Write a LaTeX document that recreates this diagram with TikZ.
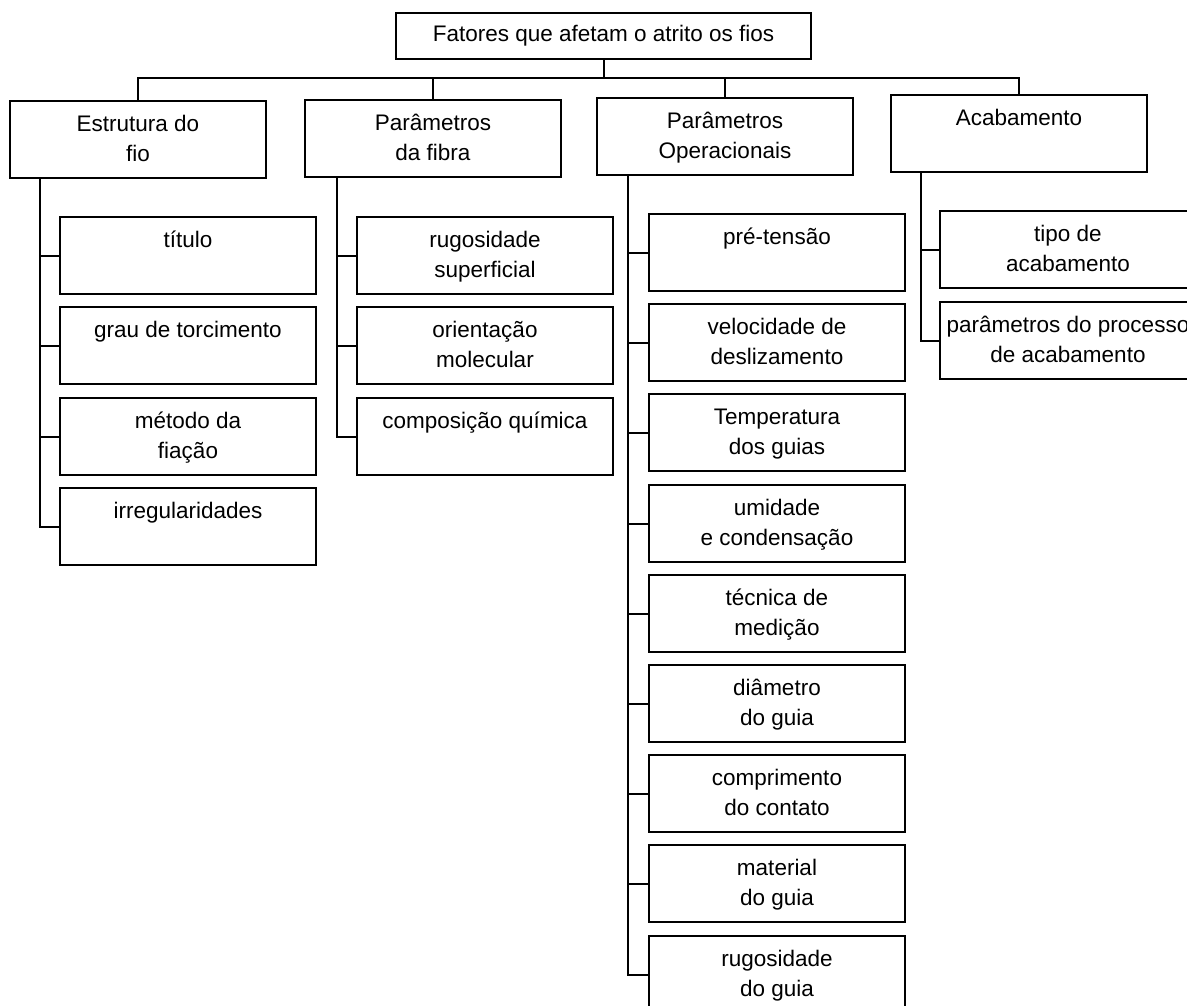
\documentclass[tikz,border=0pt]{standalone}
\usepackage{fontspec}
\setmainfont{Liberation Sans}
\usetikzlibrary{calc}
\newcommand\bt[2]{\parbox[c][77pt][t]{256pt}{\centering\vspace*{9pt}\strut#1\\\strut#2}}
\begin{document}
\begin{tikzpicture}[x=1pt,y=-1pt,
  box/.style={draw,line width=2pt,inner sep=0pt,anchor=north west,font=\fontsize{22.5}{30}\selectfont},
  conn/.style={line width=2pt}]
\fill[white] (0,0) rectangle (1187,1005);
\useasboundingbox (0,0) rectangle (1187,1005);
% root
\node[box,minimum width=415pt,minimum height=46pt] (top) at (395,12) {Fatores que afetam o atrito os fios};
% level 1
\node[box] (est) at (9,100) {\bt{Estrutura do}{fio}};
\node[box] (fib) at (304,99) {\bt{Parâmetros}{da fibra}};
\node[box] (op) at (596,97) {\bt{Parâmetros}{Operacionais}};
\node[box] (ac) at (890,94) {\bt{Acabamento}{}};
\coordinate (bar) at (0,78);
\draw[conn] (top.south) -- (top.south |- bar);
\draw[conn] (est.north) -- (est.north |- bar) -- (ac.north |- bar) -- (ac.north);
\draw[conn] (fib.north) -- (fib.north |- bar);
\draw[conn] (op.north) -- (op.north |- bar);
% Estrutura children
\node[box] (e1) at (59,216) {\bt{título}{}};
\node[box] (e2) at (59,306) {\bt{grau de torcimento}{}};
\node[box] (e3) at (59,397) {\bt{método da}{fiação}};
\node[box] (e4) at (59,487) {\bt{irregularidades}{}};
\coordinate (es) at ($(est.south west)+(31,0)$);
\draw[conn] (es) |- (e4.west);
\foreach \n in {e1,e2,e3} \draw[conn] (\n.west) -- (\n.west -| es);
% Fibra children
\node[box] (f1) at (356,216) {\bt{rugosidade}{superficial}};
\node[box] (f2) at (356,306) {\bt{orientação}{molecular}};
\node[box] (f3) at (356,397) {\bt{composição química}{}};
\coordinate (fs) at ($(fib.south west)+(33,0)$);
\draw[conn] (fs) |- (f3.west);
\foreach \n in {f1,f2} \draw[conn] (\n.west) -- (\n.west -| fs);
% Operacionais children
\node[box] (o1) at (648,213) {\bt{pré-tensão}{}};
\node[box] (o2) at (648,303) {\bt{velocidade de}{deslizamento}};
\node[box] (o3) at (648,393) {\bt{Temperatura}{dos guias}};
\node[box] (o4) at (648,484) {\bt{umidade}{e condensação}};
\node[box] (o5) at (648,574) {\bt{técnica de}{medição}};
\node[box] (o6) at (648,664) {\bt{diâmetro}{do guia}};
\node[box] (o7) at (648,754) {\bt{comprimento}{do contato}};
\node[box] (o8) at (648,844) {\bt{material}{do guia}};
\node[box] (o9) at (648,935) {\bt{rugosidade}{do guia}};
\coordinate (os) at ($(op.south west)+(32,0)$);
\draw[conn] (os) |- (o9.west);
\foreach \n in {o1,o2,o3,o4,o5,o6,o7,o8} \draw[conn] (\n.west) -- (\n.west -| os);
% Acabamento children
\node[box] (a1) at (939,210) {\bt{tipo de}{acabamento}};
\node[box] (a2) at (939,301) {\bt{parâmetros do processo}{de acabamento}};
\coordinate (as) at ($(ac.south west)+(31,0)$);
\draw[conn] (as) |- (a2.west);
\draw[conn] (a1.west) -- (a1.west -| as);
\end{tikzpicture}
\end{document}
